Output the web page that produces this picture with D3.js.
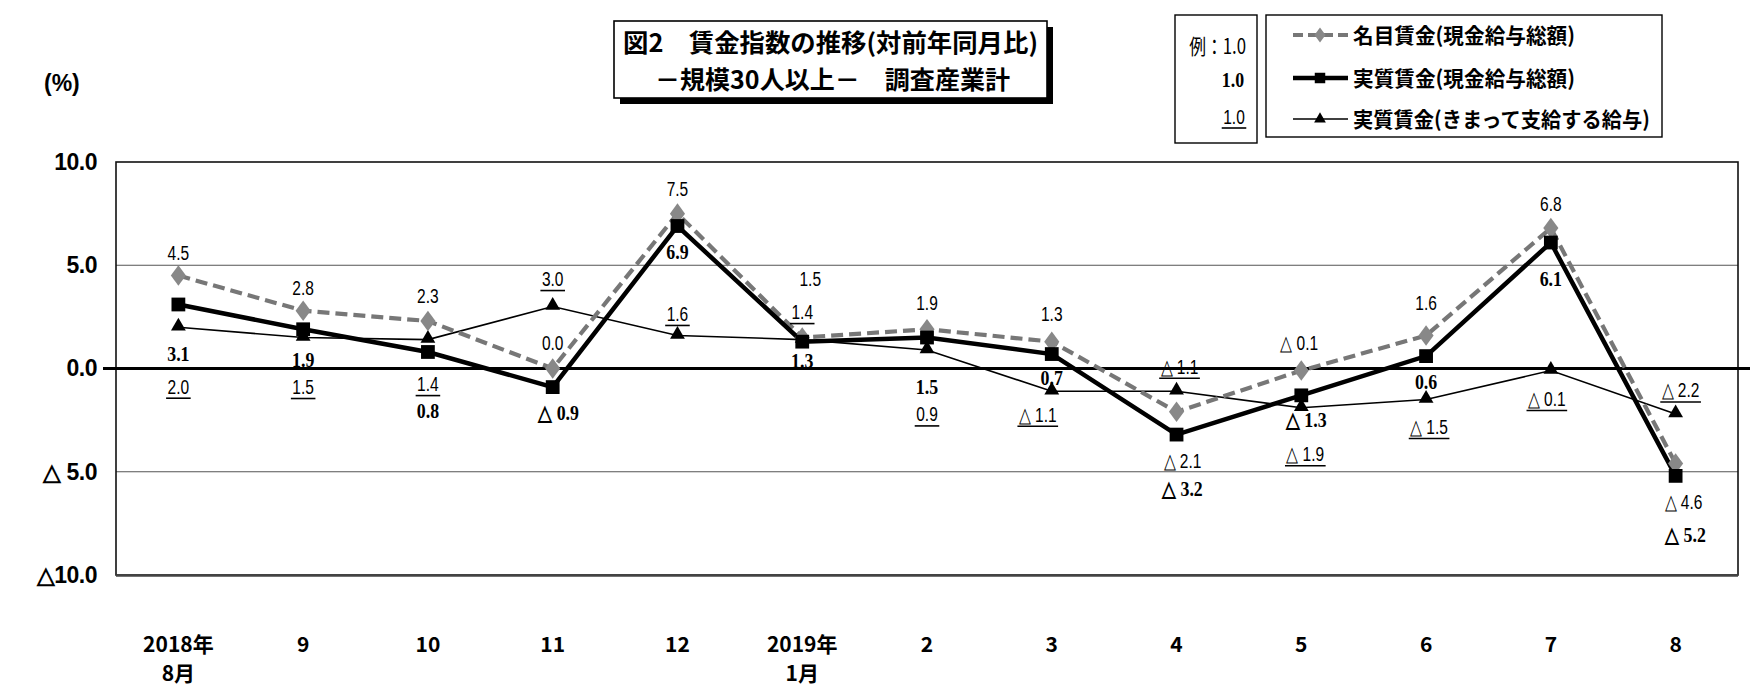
<!DOCTYPE html>
<html><head><meta charset="utf-8">
<script src="https://cdn.jsdelivr.net/npm/d3@7"></script>
<style>body{margin:0;background:#fff}</style>
</head><body><svg id="c" width="1750" height="700"></svg>
<script>
// ---- data ----
const months = ["2018年\n8月","9","10","11","12","2019年\n1月","2","3","4","5","6","7","8"];
const nominal   = [4.5, 2.8, 2.3, 0.0, 7.5, 1.5, 1.9, 1.3, -2.1, -0.1, 1.6, 6.8, -4.6];
const real      = [3.1, 1.9, 0.8, -0.9, 6.9, 1.3, 1.5, 0.7, -3.2, -1.3, 0.6, 6.1, -5.2];
const scheduled = [2.0, 1.5, 1.4, 3.0, 1.6, 1.4, 0.9, -1.1, -1.1, -1.9, -1.5, -0.1, -2.2];
const yTicks = [10, 5, 0, -5, -10];
const seriesNames = ["名目賃金(現金給与総額)", "実質賃金(現金給与総額)", "実質賃金(きまって支給する給与)"];
const titleLines = ["図2　賃金指数の推移(対前年同月比)", "－規模30人以上－　調査産業計"];

// ---- label layout (pixel offsets from the point) ----
const nomDy   = [-23,-23,-26,-26,-25,-59,-27,-28, 49,-28,-33,-25, 38];
const nomDx   = [  0,  0,  0,  0,  0,  8,  0,  0,  6, -2,  0,  0,  8];
const realDy  = [ 49, 30, 58, 25, 25, 19, 49, 23, 54, 24, 25, 36, 59];
const realDx  = [  0,  0,  0,  6,  0,  0,  0,  0,  6,  5,  0,  0, 10];
const schedDy = [ 59, 49, 44,-28,-22,-28, 64, 23,-25, 46, 27, 28,-24];
const schedDx = [  0,  0,  0,  0,  0,  0,  0,-14,  3,  4,  3, -4,  5];

const svg = d3.select("#c");
const W = 1750, H = 700;
const plot = {left:116, right:1738, top:162, bottom:575};

const x = d3.scaleBand().domain(d3.range(months.length)).range([plot.left, plot.right]).padding(0);
const y = d3.scaleLinear().domain([-10, 10]).range([plot.bottom, plot.top]);
const cx = i => x(i) + x.bandwidth()/2;

const fmt = v => v < 0 ? (v <= -10 ? "△" : "△ ") + Math.abs(v).toFixed(1) : v.toFixed(1);

// ---- grid ----
svg.append("g").selectAll("line").data(yTicks.filter(v => v !== 0 && v !== 10 && v !== -10)).join("line")
  .attr("x1", plot.left).attr("x2", plot.right).attr("y1", d => y(d)).attr("y2", d => y(d))
  .attr("stroke", "#555").attr("stroke-width", 1.2);

// frame
svg.append("rect").attr("x", plot.left).attr("y", plot.top)
  .attr("width", plot.right - plot.left).attr("height", plot.bottom - plot.top)
  .attr("fill", "none").attr("stroke", "#111").attr("stroke-width", 1.6);
svg.append("line").attr("x1", plot.left).attr("x2", plot.right)
  .attr("y1", y(-10)+0.5).attr("y2", y(-10)+0.5).attr("stroke", "#444").attr("stroke-width", 2.5);

// zero line
svg.append("line").attr("x1", 103).attr("x2", W).attr("y1", y(0)).attr("y2", y(0))
  .attr("stroke", "#000").attr("stroke-width", 3);

// ---- y axis ----
const yAxis = d3.axisLeft(y).tickValues(yTicks).tickSize(0).tickPadding(19).tickFormat(fmt);
const ya = svg.append("g").attr("transform", `translate(${plot.left},0)`).call(yAxis);
ya.select(".domain").remove();
ya.selectAll("text").attr("font-family", "'Liberation Sans', Arial, sans-serif")
  .attr("font-size", 23).attr("font-weight", "bold").attr("fill", "#000")
  .attr("letter-spacing", "-0.5px");

svg.append("text").attr("x", 44).attr("y", 91).text("(%)")
  .attr("font-family", "'Liberation Sans', Arial, sans-serif").attr("font-size", 23)
  .attr("font-weight", "bold");

// ---- x axis ----
const xAxis = d3.axisBottom(x).tickSize(0).tickPadding(0).tickFormat(i => months[i]);
const xa = svg.append("g").attr("transform", `translate(0,${plot.bottom + 70})`).call(xAxis);
xa.select(".domain").remove();
xa.selectAll("text").each(function(d) {
  const t = d3.select(this);
  const parts = months[d].split("\n");
  t.text(null).attr("dy", null).attr("y", 0)
    .attr("font-family", "'Noto Sans CJK JP', sans-serif").attr("font-size", 21)
    .attr("font-weight", "bold").attr("fill", "#000")
    .attr("transform", null);
  parts.forEach((p, k) => {
    t.append("tspan").attr("x", 0).attr("dy", k === 0 ? "0.35em" : "1.35em").text(p);
  });
});

// ---- series ----
const line = d3.line().x((d, i) => cx(i)).y(d => y(d));

svg.append("path").datum(scheduled).attr("d", line).attr("fill", "none")
  .attr("stroke", "#000").attr("stroke-width", 1.6);
svg.append("path").datum(nominal).attr("d", line).attr("fill", "none")
  .attr("stroke", "#777").attr("stroke-width", 4.2).attr("stroke-dasharray", "12,6");
svg.append("path").datum(real).attr("d", line).attr("fill", "none")
  .attr("stroke", "#000").attr("stroke-width", 4.5);

const sym = (type, size) => d3.symbol().type(type).size(size)();
svg.append("g").selectAll("path").data(scheduled).join("path")
  .attr("d", sym(d3.symbolTriangle, 95))
  .attr("transform", (d, i) => `translate(${cx(i)},${y(d) - 1})`).attr("fill", "#000");
svg.append("g").selectAll("path").data(nominal).join("path")
  .attr("d", sym(d3.symbolDiamond, 150))
  .attr("transform", (d, i) => `translate(${cx(i)},${y(d)}) scale(1.15,0.9)`).attr("fill", "#888");
svg.append("g").selectAll("path").data(real).join("path")
  .attr("d", sym(d3.symbolSquare, 190))
  .attr("transform", (d, i) => `translate(${cx(i)},${y(d)})`).attr("fill", "#000");

// ---- labels ----
function label(g, px, py, text, style, fs) {
  const bold = style === "bold";
  const sx = bold ? 0.85 : 0.74;
  const grp = g.append("g").attr("transform", `translate(${px},${py}) scale(${sx},1)`);
  const t = grp.append("text").attr("text-anchor", "middle").attr("dy", "0.36em").text(text)
    .attr("font-family", bold ? "'Liberation Serif', serif" : "'Liberation Sans', Arial, sans-serif")
    .attr("font-size", fs || (bold ? 21 : 21)).attr("font-weight", bold ? "bold" : "normal").attr("fill", "#000");
  if (style === "underline") {
    const w = t.node().getComputedTextLength();
    grp.append("line").attr("x1", -w/2 - 2).attr("x2", w/2 + 2).attr("y1", 12).attr("y2", 12)
      .attr("stroke", "#000").attr("stroke-width", 1.6);
  }
}
const lg = svg.append("g");
nominal.forEach((v, i) => label(lg, cx(i) + nomDx[i], y(v) + nomDy[i], fmt(v), "normal"));
real.forEach((v, i) => label(lg, cx(i) + realDx[i], y(v) + realDy[i], fmt(v), "bold"));
scheduled.forEach((v, i) => label(lg, cx(i) + schedDx[i], y(v) + schedDy[i], fmt(v), "underline"));

// ---- title box ----
svg.append("rect").attr("x", 620).attr("y", 27).attr("width", 433).attr("height", 77).attr("fill", "#000");
svg.append("rect").attr("x", 614).attr("y", 21).attr("width", 433).attr("height", 77)
  .attr("fill", "#fff").attr("stroke", "#000").attr("stroke-width", 1.6);
const titleFont = "'Noto Sans CJK JP', sans-serif";
svg.append("text").attr("x", 623).attr("y", 52).text(titleLines[0])
  .attr("font-family", titleFont).attr("font-size", 25).attr("font-weight", "bold")
  .attr("textLength", 415).attr("lengthAdjust", "spacingAndGlyphs");
svg.append("text").attr("x", 655).attr("y", 89).text(titleLines[1])
  .attr("font-family", titleFont).attr("font-size", 25).attr("font-weight", "bold")
  .attr("textLength", 355).attr("lengthAdjust", "spacingAndGlyphs");

// ---- example box ----
svg.append("rect").attr("x", 1175).attr("y", 15).attr("width", 82).attr("height", 128)
  .attr("fill", "#fff").attr("stroke", "#000").attr("stroke-width", 1.4);
const eg = svg.append("g");
{
  const g1 = eg.append("g").attr("transform", "translate(1246,46) scale(0.8,1)");
  g1.append("text").attr("text-anchor", "end").attr("dy", "0.36em").text("例：1.0")
    .attr("font-family", "'Noto Sans CJK JP', sans-serif").attr("font-size", 21);
  label(eg, 1233, 79, "1.0", "bold");
  label(eg, 1234, 116, "1.0", "underline");
}

// ---- legend ----
svg.append("rect").attr("x", 1266).attr("y", 15).attr("width", 396).attr("height", 122)
  .attr("fill", "#fff").attr("stroke", "#000").attr("stroke-width", 1.4);
const legRows = [35, 78, 119];
const legLen = [222, 222, 297];
const legStyles = [
  {stroke:"#777", w:4.2, dash:"10,5", sym:d3.symbolDiamond, size:80, fill:"#888", tf:"scale(1.15,0.9)"},
  {stroke:"#000", w:4.5, dash:null, sym:d3.symbolSquare, size:110, fill:"#000", tf:""},
  {stroke:"#000", w:1.6, dash:null, sym:d3.symbolTriangle, size:60, fill:"#000", tf:""}
];
seriesNames.forEach((name, k) => {
  const yy = legRows[k], s = legStyles[k];
  svg.append("line").attr("x1", 1293).attr("x2", 1348).attr("y1", yy).attr("y2", yy)
    .attr("stroke", s.stroke).attr("stroke-width", s.w).attr("stroke-dasharray", s.dash);
  svg.append("path").attr("d", sym(s.sym, s.size))
    .attr("transform", `translate(1320,${yy}) ${s.tf}`).attr("fill", s.fill);
  svg.append("text").attr("x", 1353).attr("y", yy).attr("dy", "0.36em").text(name)
    .attr("font-family", "'Noto Sans CJK JP', sans-serif").attr("font-size", 21).attr("font-weight", "bold")
    .attr("textLength", legLen[k]).attr("lengthAdjust", "spacingAndGlyphs");
});
</script></body></html>
